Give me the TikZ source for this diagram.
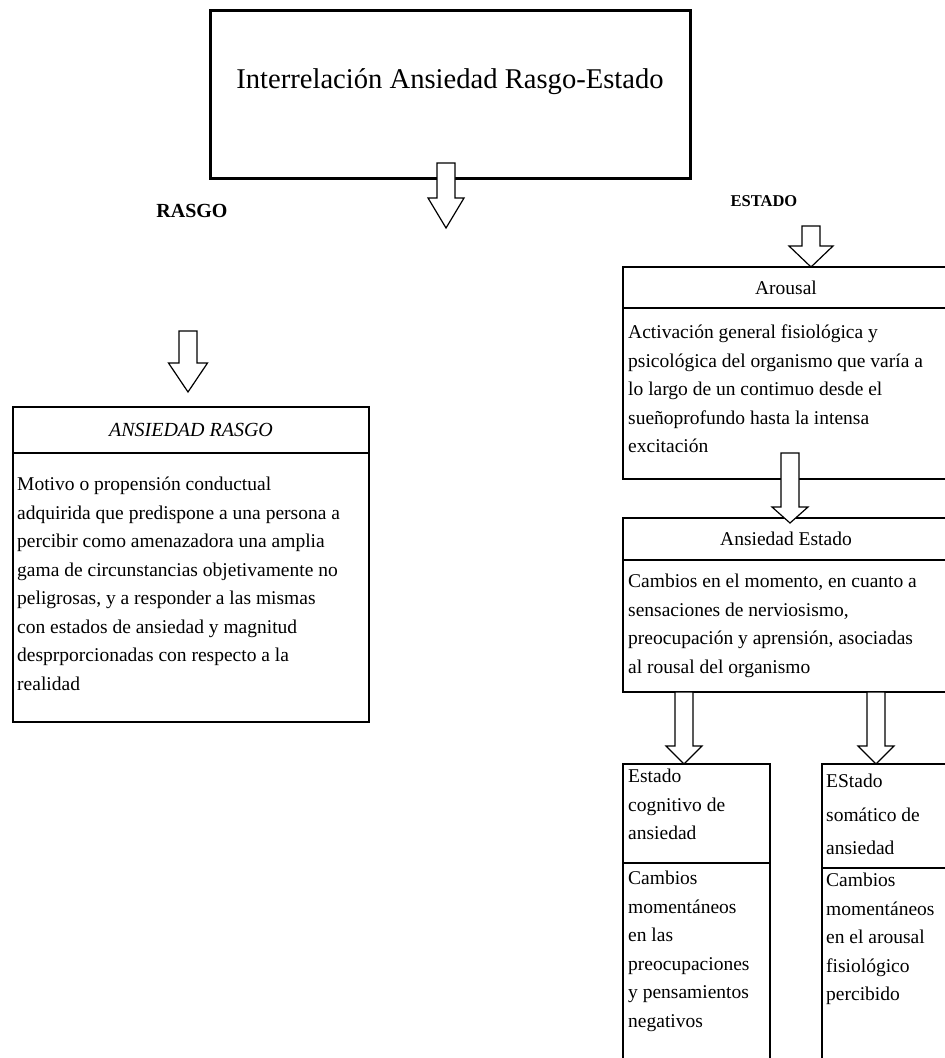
\documentclass[tikz,border=0pt]{standalone}
\usepackage{fontspec}
\setmainfont{Liberation Serif}
\usetikzlibrary{positioning, calc}

\newcommand{\bodyfont}{\fontsize{19.5}{28.5}\selectfont}
% hollow block arrow: start, tip, half width of head, length of head
\newcommand{\hollowarrow}[4]{%
  \draw[arrowbody] let \p1=(#1), \p2=(#2) in
    (\x1-9pt,\y1) -- (\x1-9pt,\y2+#4) -- (\x1-#3,\y2+#4) -- (\x1,\y2)
    -- (\x1+#3,\y2+#4) -- (\x1+9pt,\y2+#4) -- (\x1+9pt,\y1) -- cycle;
}

\begin{document}
\begin{tikzpicture}[x=1pt, y=1pt]
    % Define the styles
    \tikzset{
        titlebox/.style = {draw, line width=3pt, anchor=north west, outer sep=0pt, minimum width=480pt, minimum height=168pt},
        hdr/.style = {draw, line width=1.3pt, anchor=north west, outer sep=0pt, inner sep=0pt, font=\bodyfont},
        frame/.style = {draw, line width=1.3pt, anchor=north west, outer sep=0pt, inner sep=0pt},
        txt/.style = {anchor=north west, inner sep=0pt, align=left, font=\bodyfont},
        arrowbody/.style = {draw, line width=1.2pt, fill=white, line join=miter},
    }

    \fill[white] (0,0) rectangle (945,-1058);
    \useasboundingbox (0,0) rectangle (945,-1058);
    \clip (0,0) rectangle (945,-1058);

    % Title
    \node [titlebox] (title) at (210,-10) {};
    \node [font=\fontsize{28.6}{34}\selectfont] (titleTxt) at ($(title.center)+(0,12)$) {Interrelación Ansiedad Rasgo-Estado};

    % Side labels
    \node [font=\fontsize{20}{24}\selectfont\bfseries] (rasgo) at (192,-211) {RASGO};
    \node [font=\fontsize{16.5}{20}\selectfont\bfseries] (estado) at (764,-201) {ESTADO};

    % Left box
    \node [hdr, minimum width=356pt, minimum height=46pt, font=\fontsize{20}{24}\selectfont\itshape] (rasgoHd) at (13,-407) {ANSIEDAD RASGO};
    \node [frame, minimum width=356pt, minimum height=269pt, below=0pt of rasgoHd.south west, anchor=north west] (rasgoBody) {};
    \node [txt, below right=24pt and 4pt of rasgoBody.north west] (rasgoTxt) {Motivo o propensión conductual\\adquirida que predispone a una persona a\\percibir como amenazadora una amplia\\gama de circunstancias objetivamente no\\peligrosas, y a responder a las mismas\\con estados de ansiedad y magnitud\\desprporcionadas con respecto a la\\realidad};

    % Right column
    \node [hdr, minimum width=326pt, minimum height=41pt] (arousalHd) at (623,-267) {Arousal\hspace{30pt}};
    \node [frame, minimum width=326pt, minimum height=171pt, below=0pt of arousalHd.south west, anchor=north west] (arousalBody) {};
    \node [txt, below right=17pt and 5pt of arousalBody.north west] (arousalTxt) {Activación general fisiológica y\\psicológica del organismo que varía a\\lo largo de un contimuo desde el\\sueñoprofundo hasta la intensa\\excitación};

    \node [hdr, minimum width=326pt, minimum height=42pt] (aeHd) at (623,-518) {Ansiedad Estado};
    \node [frame, minimum width=326pt, minimum height=132pt, below=0pt of aeHd.south west, anchor=north west] (aeBody) {};
    \node [txt, below right=14pt and 5pt of aeBody.north west] (aeTxt) {Cambios en el momento, en cuanto a\\sensaciones de nerviosismo,\\preocupación y aprensión, asociadas\\al rousal del organismo};

    % Bottom boxes
    \node [frame, minimum width=147pt, minimum height=99pt] (cogHd) at (623,-764) {};
    \node [txt, below right=5pt and 5pt of cogHd.north west] (cogHdTxt) {Estado\\cognitivo de\\ansiedad};
    \node [frame, minimum width=147pt, minimum height=230pt, below=0pt of cogHd.south west, anchor=north west] (cogBody) {};
    \node [txt, below right=8pt and 5pt of cogBody.north west] (cogTxt) {Cambios\\momentáneos\\en las\\preocupaciones\\y pensamientos\\negativos};

    \node [frame, minimum width=127pt, minimum height=104pt] (somHd) at (822,-764) {};
    \node [txt, below right=10pt and 4pt of somHd.north west] (somHdTxt) {EStado\\[5pt]somático de\\[5pt]ansiedad};
    \node [frame, minimum width=127pt, minimum height=230pt, below=0pt of somHd.south west, anchor=north west] (somBody) {};
    \node [txt, below right=5pt and 4pt of somBody.north west] (somTxt) {Cambios\\momentáneos\\en el arousal\\fisiológico\\percibido};

    % Arrow ends
    \coordinate (topTip) at ($(title.south)+(-4,-50)$);
    \coordinate (estTop) at (811,-226);
    \coordinate (rasTop) at (188,-331);
    \coordinate (rasTip) at (188,-392);
    \coordinate (arTop) at ($(arousalBody.south west)+(167,26)$);
    \coordinate (cogTop) at ($(aeBody.south west)+(61,0)$);
    \coordinate (somTop) at ($(aeBody.south west)+(253,0)$);

    % Connecting arrows
    \hollowarrow{$(title.south)+(-4,15)$}{topTip}{18pt}{30pt}
    \hollowarrow{estTop}{estTop |- arousalHd.north}{22pt}{21pt}
    \hollowarrow{rasTop}{rasTip}{19.5pt}{29pt}
    \hollowarrow{arTop}{$(arTop |- aeHd.north)+(0,-5)$}{18pt}{16pt}
    \hollowarrow{cogTop}{cogTop |- cogHd.north}{18pt}{18pt}
    \hollowarrow{somTop}{somTop |- somHd.north}{18pt}{18pt}

\end{tikzpicture}
\end{document}
